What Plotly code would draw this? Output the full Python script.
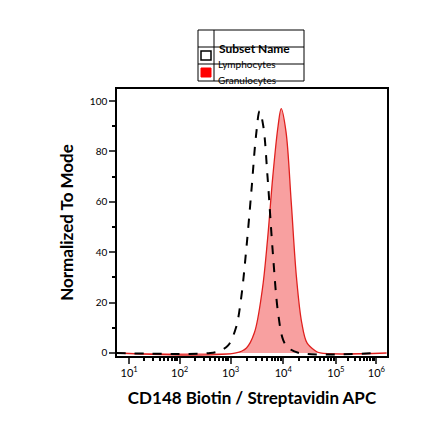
import numpy as np
import plotly.graph_objects as go

# tick decades and their display positions (logicle-like compression at top)
tick_decades = [1, 2, 3, 4, 5, 6]
tick_labels = ["10<sup>1</sup>", "10<sup>2</sup>", "10<sup>3</sup>", "10<sup>4</sup>", "10<sup>5</sup>", "10<sup>6</sup>"]
tick_pos = [1.0, 1.96, 2.93, 3.93, 4.93, 5.7]

lymph_log = [0.75, 2.6, 2.8, 2.95, 3.1, 3.2, 3.3, 3.4, 3.48, 3.55, 3.62, 3.7, 3.8, 3.9, 4.0, 4.1, 4.3, 6.0]
lymph_y = [0, 0, 1, 3, 10, 22, 42, 66, 86, 96, 90, 70, 40, 16, 5, 2, 0, 0]

gran_log = [0.75, 3.1, 3.3, 3.45, 3.6, 3.7, 3.8, 3.9, 3.96, 4.05, 4.15, 4.25, 4.35, 4.45, 4.6, 4.7, 6.25]
gran_y = [0, 0, 2, 8, 25, 45, 70, 90, 97, 88, 60, 30, 12, 4, 1, 0, 0]

def disp_ext(v):
    v = np.asarray(v, float)
    out = np.interp(v, tick_decades, tick_pos)
    out = np.where(v < 1, 1.0 - (1 - v) * 0.96, out)
    out = np.where(v > 6, 5.7 + (v - 6) * 0.77, out)
    return out

fig = go.Figure()
fig.add_trace(go.Scatter(x=disp_ext(gran_log), y=gran_y, mode="lines", line=dict(color="#e0201e", width=1.3, shape="spline"),
                         fill="tozeroy", fillcolor="rgba(245,120,120,0.7)", showlegend=False))
fig.add_trace(go.Scatter(x=disp_ext(lymph_log), y=lymph_y, mode="lines", line=dict(color="black", width=2, dash="dash", shape="spline"),
                         showlegend=False))

minor = []
for d in range(1, 6):
    for k in range(2, 10):
        minor.append(float(disp_ext(d + np.log10(k))))

PL, PR, PT, PB = 115, 385, 88, 355
fig.update_layout(
    width=440, height=441, margin=dict(l=109, r=61, t=81, b=93),
    paper_bgcolor="white", plot_bgcolor="white",
    font=dict(family="Lato, Open Sans, sans-serif", color="black"),
    xaxis=dict(range=[0.77, 5.9], tickmode="array", tickvals=tick_pos, ticktext=tick_labels,
               ticks="outside", ticklen=6, tickwidth=2, showline=True, linecolor="black", linewidth=1.5,
               showgrid=False, zeroline=False, tickfont=dict(size=11), mirror=True,
               minor=dict(tickmode="array", tickvals=minor, ticks="outside", ticklen=3, tickcolor="black"),
               title=dict(text="<b>CD148 Biotin / Streptavidin APC</b>", font=dict(size=17), standoff=14)),
    yaxis=dict(range=[-1.2, 104.8], tickvals=[0, 20, 40, 60, 80, 100], ticks="outside", ticklen=6, tickwidth=2,
               showline=True, linecolor="black", linewidth=1.5, showgrid=False, zeroline=False, mirror=True,
               tickfont=dict(size=10),
               minor=dict(dtick=10, ticks="outside", ticklen=3, tickcolor="black"),
               title=dict(text="<b>Normalized To Mode</b>", font=dict(size=17), standoff=12)),
)

X0, X1, XM = 196, 302, 212
Y = [29, 46, 63, 80]
def px(x): return (x - PL) / (PR - PL)
def py(y): return (PB - y) / (PB - PT)
shapes = [dict(type="rect", xref="paper", yref="paper", x0=px(X0), x1=px(X1), y0=py(Y[3]), y1=py(Y[0]), line=dict(color="black", width=1))]
for y in Y[1:3]:
    shapes.append(dict(type="line", xref="paper", yref="paper", x0=px(X0), x1=px(X1), y0=py(y), y1=py(y), line=dict(color="black", width=1)))
shapes.append(dict(type="line", xref="paper", yref="paper", x0=px(XM), x1=px(XM), y0=py(Y[3]), y1=py(Y[0]), line=dict(color="black", width=1)))
shapes.append(dict(type="rect", xref="paper", yref="paper", x0=px(199), x1=px(209), y0=py(59), y1=py(50), line=dict(color="black", width=1.5), fillcolor="white"))
shapes.append(dict(type="rect", xref="paper", yref="paper", x0=px(199), x1=px(209), y0=py(76), y1=py(67), line=dict(color="red", width=1), fillcolor="red"))
fig.update_layout(shapes=shapes)
fig.add_annotation(xref="paper", yref="paper", x=px(215), y=py(37.5), text="<b>Subset Name</b>", showarrow=False, xanchor="left", font=dict(size=12))
fig.add_annotation(xref="paper", yref="paper", x=px(214), y=py(54.5), text="Lymphocytes", showarrow=False, xanchor="left", font=dict(size=10))
fig.add_annotation(xref="paper", yref="paper", x=px(214), y=py(71.5), text="Granulocytes", showarrow=False, xanchor="left", font=dict(size=10))

fig.write_html("out.html")
